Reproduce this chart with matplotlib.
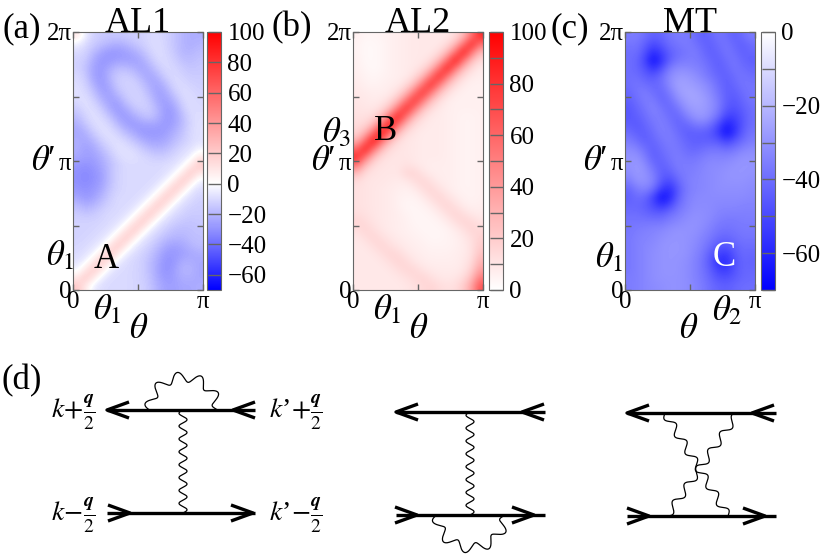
import numpy as np
import matplotlib
matplotlib.use("Agg")
import matplotlib.pyplot as plt
from matplotlib.colors import LinearSegmentedColormap, Normalize

# grids: rows run from theta' = 2pi (top) down to 0, columns theta = 0 .. pi
AL1 = np.array([
    [10, -4, -12, -14, -15, -15, -14, -13, -12, -10, -10, -12, -16, -20, -22, -22],
    [-4, -10, -14, -17, -20, -22, -20, -16, -13, -10, -9, -12, -16, -20, -22, -20],
    [-10, -12, -18, -25, -28, -28, -26, -23, -18, -12, -9, -11, -15, -20, -20, -18],
    [-12, -14, -23, -28, -28, -26, -26, -26, -23, -16, -10, -10, -13, -17, -18, -16],
    [-12, -16, -25, -28, -23, -18, -18, -21, -25, -21, -14, -10, -11, -14, -16, -15],
    [-10, -14, -25, -28, -20, -14, -13, -15, -21, -25, -20, -12, -10, -12, -14, -14],
    [-9, -12, -21, -28, -23, -14, -12, -12, -16, -23, -25, -18, -10, -10, -12, -13],
    [-8, -10, -16, -25, -26, -18, -13, -12, -13, -20, -26, -23, -14, -9, -10, -12],
    [-10, -8, -12, -20, -26, -25, -16, -12, -12, -16, -25, -26, -20, -11, -9, -11],
    [-14, -9, -9, -14, -23, -28, -23, -16, -13, -14, -21, -28, -25, -14, -9, -10],
    [-18, -12, -8, -10, -16, -25, -28, -23, -18, -16, -21, -28, -26, -18, -10, -9],
    [-22, -16, -10, -8, -11, -18, -25, -28, -26, -25, -26, -28, -25, -18, -11, -8],
    [-24, -22, -14, -9, -8, -12, -18, -23, -28, -28, -28, -26, -21, -16, -10, -8],
    [-22, -24, -20, -13, -9, -8, -11, -16, -21, -25, -25, -23, -18, -14, -10, -8],
    [-22, -26, -24, -18, -12, -8, -8, -10, -14, -18, -20, -18, -14, -10, -8, -3],
    [-24, -26, -26, -22, -16, -10, -8, -8, -10, -12, -14, -13, -10, -8, -3, 9],
    [-28, -30, -28, -24, -18, -13, -10, -10, -10, -10, -10, -9, -8, -3, 9, 22],
    [-30, -32, -30, -26, -18, -12, -10, -10, -10, -10, -10, -8, -3, 9, 22, 9],
    [-30, -32, -30, -26, -18, -12, -10, -10, -10, -10, -8, -3, 9, 22, 9, -5],
    [-28, -30, -28, -24, -16, -12, -10, -10, -10, -8, -3, 9, 22, 9, -5, -9],
    [-24, -28, -26, -20, -14, -10, -10, -10, -8, -3, 9, 22, 9, -5, -9, -12],
    [-18, -22, -20, -16, -12, -10, -10, -8, -3, 9, 22, 9, -5, -9, -12, -13],
    [-14, -16, -15, -12, -10, -10, -8, -3, 9, 22, 9, -5, -9, -12, -14, -14],
    [-12, -12, -12, -11, -10, -8, -3, 9, 22, 9, -5, -9, -13, -15, -16, -15],
    [-12, -12, -11, -10, -8, -3, 9, 22, 9, -5, -9, -14, -17, -18, -17, -16],
    [-12, -11, -10, -8, -3, 9, 22, 9, -5, -9, -14, -18, -20, -20, -18, -17],
    [-11, -10, -8, -3, 9, 22, 9, -5, -9, -13, -18, -24, -26, -24, -20, -18],
    [-10, -8, -3, 9, 22, 9, -5, -9, -12, -16, -22, -28, -28, -26, -24, -22],
    [-8, -3, 9, 22, 9, -5, -9, -11, -13, -18, -24, -30, -28, -22, -22, -24],
    [-3, 9, 22, 9, -5, -9, -10, -11, -13, -18, -25, -30, -26, -20, -20, -24],
    [9, 22, 9, -5, -9, -10, -10, -11, -13, -17, -24, -28, -26, -22, -22, -24],
    [22, 9, -5, -9, -10, -10, -10, -11, -12, -16, -22, -26, -26, -24, -24, -22],
])

AL2 = np.array([
    [6, 4, 4, 5, 6, 7, 8, 9, 9, 9, 9, 9, 14, 26, 55, 85],
    [5, 3, 3, 4, 6, 7, 8, 9, 9, 9, 9, 14, 26, 55, 88, 55],
    [5, 3, 3, 4, 6, 7, 8, 9, 9, 9, 14, 26, 55, 92, 55, 26],
    [6, 3, 3, 4, 6, 7, 8, 9, 9, 14, 26, 55, 94, 55, 26, 14],
    [6, 4, 3, 4, 6, 7, 8, 9, 14, 26, 55, 90, 55, 26, 14, 8],
    [7, 5, 4, 5, 6, 7, 8, 14, 26, 55, 86, 55, 26, 14, 8, 7],
    [8, 6, 5, 6, 7, 8, 14, 26, 55, 84, 55, 26, 14, 8, 6, 6],
    [9, 8, 7, 7, 8, 14, 26, 55, 82, 55, 26, 14, 8, 6, 6, 6],
    [10, 9, 8, 9, 14, 26, 55, 82, 55, 26, 14, 8, 6, 6, 6, 6],
    [11, 10, 10, 14, 26, 55, 85, 55, 26, 14, 9, 7, 6, 6, 6, 6],
    [12, 12, 15, 27, 56, 90, 56, 26, 14, 9, 8, 7, 6, 5, 5, 6],
    [14, 16, 28, 58, 96, 58, 27, 14, 10, 8, 8, 7, 6, 5, 5, 6],
    [17, 30, 58, 98, 58, 27, 14, 10, 8, 8, 8, 7, 6, 5, 5, 6],
    [30, 58, 96, 58, 27, 14, 10, 9, 8, 8, 8, 7, 6, 5, 5, 6],
    [58, 92, 56, 27, 14, 11, 10, 9, 8, 8, 8, 7, 6, 5, 5, 6],
    [86, 55, 26, 14, 11, 10, 10, 9, 8, 8, 8, 7, 6, 5, 5, 6],
    [55, 26, 14, 11, 10, 10, 12, 10, 8, 7, 7, 7, 6, 5, 5, 6],
    [26, 14, 11, 10, 10, 10, 16, 17, 11, 8, 7, 7, 6, 5, 5, 6],
    [14, 11, 10, 10, 9, 8, 9, 13, 17, 12, 8, 7, 6, 5, 5, 6],
    [12, 11, 10, 9, 8, 7, 6, 8, 13, 17, 12, 8, 6, 5, 5, 6],
    [12, 11, 10, 9, 8, 6, 5, 5, 8, 13, 17, 12, 8, 6, 5, 6],
    [12, 11, 10, 9, 8, 6, 4, 4, 5, 8, 13, 17, 12, 8, 6, 7],
    [13, 12, 10, 9, 8, 7, 5, 4, 4, 5, 8, 13, 17, 13, 9, 8],
    [17, 14, 11, 9, 8, 7, 6, 4, 4, 4, 5, 8, 13, 17, 15, 11],
    [13, 17, 13, 10, 8, 7, 6, 5, 4, 4, 4, 5, 8, 12, 17, 15],
    [10, 13, 17, 13, 10, 8, 7, 6, 5, 4, 4, 5, 6, 9, 13, 18],
    [9, 10, 13, 17, 13, 10, 8, 7, 6, 5, 5, 5, 6, 8, 12, 20],
    [9, 9, 10, 13, 17, 15, 10, 8, 7, 6, 6, 6, 7, 8, 12, 24],
    [9, 9, 9, 10, 13, 17, 15, 10, 8, 7, 7, 7, 7, 9, 14, 30],
    [9, 9, 9, 9, 10, 13, 16, 16, 11, 9, 8, 8, 8, 10, 18, 38],
    [9, 9, 9, 9, 9, 10, 12, 15, 17, 13, 10, 9, 10, 14, 26, 52],
    [9, 9, 9, 9, 9, 9, 10, 12, 15, 17, 14, 12, 13, 20, 36, 68],
])

MT = np.array([
    [-36, -36, -40, -44, -42, -38, -36, -36, -40, -44, -42, -38, -40, -44, -40, -36],
    [-38, -38, -44, -50, -46, -40, -38, -36, -38, -42, -44, -40, -38, -42, -44, -40],
    [-40, -40, -48, -58, -52, -44, -40, -38, -36, -40, -44, -42, -38, -40, -44, -42],
    [-40, -42, -52, -66, -56, -44, -38, -36, -36, -38, -42, -44, -40, -38, -42, -44],
    [-40, -42, -48, -56, -48, -36, -32, -32, -34, -36, -40, -44, -42, -38, -40, -42],
    [-40, -40, -44, -46, -40, -32, -28, -28, -30, -34, -38, -42, -44, -40, -38, -40],
    [-40, -38, -40, -42, -40, -32, -26, -26, -28, -30, -34, -40, -44, -42, -38, -38],
    [-42, -38, -36, -40, -42, -36, -28, -25, -25, -28, -32, -38, -44, -44, -40, -38],
    [-44, -40, -36, -36, -42, -40, -32, -27, -25, -26, -30, -36, -44, -46, -42, -38],
    [-46, -42, -38, -34, -38, -42, -38, -30, -27, -27, -30, -36, -46, -48, -44, -40],
    [-46, -44, -40, -36, -36, -40, -42, -36, -30, -28, -32, -40, -52, -52, -46, -40],
    [-44, -46, -42, -38, -35, -38, -42, -42, -38, -36, -40, -50, -62, -56, -46, -40],
    [-40, -44, -44, -40, -36, -36, -40, -44, -44, -44, -46, -54, -66, -56, -44, -38],
    [-36, -40, -44, -42, -38, -36, -38, -42, -44, -44, -44, -46, -52, -46, -40, -36],
    [-32, -34, -40, -44, -40, -37, -37, -40, -42, -40, -38, -38, -40, -38, -34, -32],
    [-30, -30, -36, -44, -42, -38, -36, -38, -38, -36, -34, -34, -34, -32, -30, -30],
    [-30, -28, -32, -40, -44, -40, -36, -36, -36, -34, -32, -32, -31, -30, -29, -29],
    [-32, -28, -30, -36, -44, -44, -38, -36, -35, -33, -32, -31, -30, -29, -29, -30],
    [-36, -30, -30, -34, -46, -50, -42, -36, -34, -33, -32, -31, -30, -30, -30, -31],
    [-42, -36, -34, -40, -54, -58, -46, -37, -34, -33, -32, -31, -31, -31, -31, -32],
    [-44, -40, -42, -52, -66, -60, -44, -36, -33, -32, -32, -32, -32, -32, -32, -33],
    [-42, -42, -44, -50, -56, -50, -40, -35, -32, -32, -32, -33, -33, -33, -34, -34],
    [-40, -40, -42, -44, -44, -40, -36, -33, -31, -31, -32, -34, -35, -35, -35, -35],
    [-38, -38, -38, -38, -38, -35, -33, -31, -30, -31, -33, -36, -37, -37, -36, -36],
    [-38, -36, -35, -34, -33, -31, -30, -30, -30, -32, -35, -38, -39, -38, -37, -37],
    [-37, -35, -34, -33, -31, -30, -29, -30, -31, -34, -37, -41, -42, -40, -38, -38],
    [-37, -35, -33, -32, -30, -29, -29, -30, -32, -35, -40, -46, -47, -43, -40, -40],
    [-37, -35, -33, -31, -30, -29, -29, -30, -33, -37, -44, -52, -54, -46, -41, -42],
    [-37, -35, -33, -31, -30, -29, -30, -31, -34, -38, -46, -58, -58, -48, -42, -43],
    [-37, -35, -33, -31, -30, -29, -30, -31, -34, -38, -44, -52, -54, -47, -42, -42],
    [-36, -35, -33, -31, -30, -30, -30, -31, -34, -37, -42, -47, -48, -45, -42, -41],
    [-36, -35, -33, -32, -31, -30, -30, -31, -33, -36, -40, -43, -44, -42, -40, -40],
])

TITLES = ["AL1", "AL2", "MT"]
PANEL_LABELS = ["(a)", "(b)", "(c)"]
CBAR_RANGES = [(-70, 100), (0, 100), (-70, 0)]
CBAR_TICKS = [list(range(-60, 101, 20)), list(range(0, 101, 10)), list(range(-70, 1, 10))]
CBAR_LABELED = [list(range(-60, 101, 20)), list(range(0, 101, 20)), [0, -20, -40, -60]]

W, H = 822, 556
GRAY = "#666666"

plt.rcParams["font.family"] = ["Liberation Serif", "DejaVu Serif"]
plt.rcParams["mathtext.fontset"] = "stix"

fig = plt.figure(figsize=(W / 100, H / 100), dpi=100)


def fx(x):
    return x / W


def fy(y):
    return 1 - y / H


cmap_a = LinearSegmentedColormap.from_list(
    "bwr_a", [(0, (0, 0, 1)), (70 / 170, (1, 1, 1)), (1, (1, 0, 0))])
cmap_b = LinearSegmentedColormap.from_list("wr", [(1, 1, 1), (1, 0, 0)])
cmap_c = LinearSegmentedColormap.from_list("bw", [(0, 0, 1), (1, 1, 1)])
CMAPS = [cmap_a, cmap_b, cmap_c]

ax_left = [73, 353, 625]
cbar_left = [207, 489, 761]
grids = [AL1, AL2, MT]

TICK_FS = 18
for k in range(3):
    ax = fig.add_axes([fx(ax_left[k]), fy(290), 130 / W, 258 / H])
    vmin, vmax = CBAR_RANGES[k]
    im = ax.imshow(grids[k], cmap=CMAPS[k], norm=Normalize(vmin, vmax),
                   extent=[0, np.pi, 0, 2 * np.pi], origin="upper",
                   aspect="auto", interpolation="bicubic")
    ax.set_xticks([0, np.pi / 2, np.pi])
    ax.set_xticklabels(["0", "", "π"])
    ax.set_yticks([0, np.pi / 2, np.pi, 1.5 * np.pi, 2 * np.pi])
    ax.set_yticklabels(["0", "", "π", "", "2π"])
    ax.tick_params(direction="in", top=True, right=True, length=4, width=1,
                   color=GRAY, labelsize=TICK_FS, pad=1)
    for s in ax.spines.values():
        s.set_color(GRAY)
    ax.set_title(TITLES[k], fontsize=26, pad=0)

    cax = fig.add_axes([fx(cbar_left[k]), fy(290), 13.5 / W, 258 / H])
    cb = fig.colorbar(im, cax=cax)
    cb.set_ticks(CBAR_TICKS[k])
    cb.set_ticklabels([f"{t}".replace("-", "\u2212") if t in CBAR_LABELED[k] else ""
                       for t in CBAR_TICKS[k]])
    cax.tick_params(direction="in", length=9.7, width=1, color=GRAY,
                    labelsize=TICK_FS, pad=5)
    cb.outline.set_edgecolor(GRAY)

# panel labels and annotations (pixel positions)
txt = dict(ha="center", va="center")
fig.text(fx(22), fy(29), "(a)", fontsize=25, **txt)
fig.text(fx(292), fy(28), "(b)", fontsize=25, **txt)
fig.text(fx(570), fy(29), "(c)", fontsize=25, **txt)
fig.text(fx(22), fy(381), "(d)", fontsize=25, **txt)

mfs = 25
for x0 in ax_left:
    fig.text(fx(x0 - 30), fy(161), r"$\theta$′", fontsize=mfs, **txt)
fig.text(fx(60), fy(256), r"$\theta_1$", fontsize=mfs, **txt)
fig.text(fx(337), fy(133), r"$\theta_3$", fontsize=mfs, **txt)
fig.text(fx(609), fy(258), r"$\theta_1$", fontsize=mfs, **txt)
fig.text(fx(107), fy(310), r"$\theta_1$", fontsize=mfs, **txt)
fig.text(fx(387), fy(310), r"$\theta_1$", fontsize=mfs, **txt)
fig.text(fx(727), fy(311), r"$\theta_2$", fontsize=mfs, **txt)
fig.text(fx(139), fy(329), r"$\theta$", fontsize=mfs, **txt)
fig.text(fx(419), fy(329), r"$\theta$", fontsize=mfs, **txt)
fig.text(fx(689), fy(330), r"$\theta$", fontsize=mfs, **txt)
fig.text(fx(106), fy(259), "A", fontsize=25, **txt)
fig.text(fx(386), fy(131), "B", fontsize=25, **txt)
fig.text(fx(724), fy(257), "C", fontsize=25, color="white", **txt)

# Feynman diagrams, drawn in pixel coordinates
axd = fig.add_axes([0, 0, 1, 1], zorder=-1)
axd.set_xlim(0, W)
axd.set_ylim(H, 0)
axd.axis("off")

LW_F = 2.4
LW_W = 0.9


def fermion(y, x0, x1):
    axd.plot([x0, x1], [y, y], color="k", lw=LW_F, solid_capstyle="butt")


def chevron(tip_x, y, direction, dx=22, dy=8):
    ax_ = tip_x - direction * dx
    axd.plot([ax_, tip_x, ax_], [y - dy, y, y + dy], color="k", lw=LW_F,
             solid_joinstyle="round", solid_capstyle="butt")


def wavy(p0, p1, n_half, amp):
    t = np.linspace(0, 1, 600)
    x = p0[0] + (p1[0] - p0[0]) * t
    y = p0[1] + (p1[1] - p0[1]) * t
    L = np.hypot(p1[0] - p0[0], p1[1] - p0[1])
    nx, ny = -(p1[1] - p0[1]) / L, (p1[0] - p0[0]) / L
    off = amp * np.sin(np.pi * n_half * t)
    axd.plot(x + off * nx, y + off * ny, color="k", lw=LW_W)


def wavy_arc(cx, cy, rx, ry, sign, n_half, amp):
    phi = np.linspace(np.pi, 0, 600)
    t = np.linspace(0, 1, 600)
    off = amp * np.sin(np.pi * n_half * t)
    x = cx + (rx + off) * np.cos(phi)
    y = cy - sign * (ry + off) * np.sin(phi)
    axd.plot(x, y, color="k", lw=LW_W)


# diagram 1
fermion(410, 107, 255)
chevron(107, 410, -1)
chevron(233, 410, -1)
fermion(513, 107, 255)
chevron(130, 513, 1)
chevron(253, 513, 1)
wavy((183, 410), (183, 513), 16, 4)
wavy_arc(183.5, 410, 34, 33, 1, 10, 5)

# diagram 2
fermion(412, 396, 545)
chevron(396, 412, -1)
chevron(522, 412, -1)
fermion(515, 396, 545)
chevron(417, 515, 1)
chevron(534, 515, 1)
wavy((470, 412), (470, 515), 16, 4)
wavy_arc(471, 515, 34, 33, -1, 10, 5)

# diagram 3
fermion(413, 627, 776)
chevron(627, 413, -1)
chevron(752, 413, -1)
fermion(516, 627, 776)
chevron(649, 516, 1)
chevron(765, 516, 1)
wavy((665, 413), (728, 516), 12, 4)
wavy((738, 413), (667, 516), 12, 4)

lfs = 20
axd.text(73, 412, r"$k\!+\!\frac{\mathbfit{q}}{2}$", fontsize=lfs, **txt)
axd.text(296, 412, r"$k$’$\!+\!\frac{\mathbfit{q}}{2}$", fontsize=lfs, **txt)
axd.text(73, 515, r"$k\!-\!\frac{\mathbfit{q}}{2}$", fontsize=lfs, **txt)
axd.text(296, 515, r"$k$’$\!-\!\frac{\mathbfit{q}}{2}$", fontsize=lfs, **txt)

fig.savefig("out.png", dpi=100)
